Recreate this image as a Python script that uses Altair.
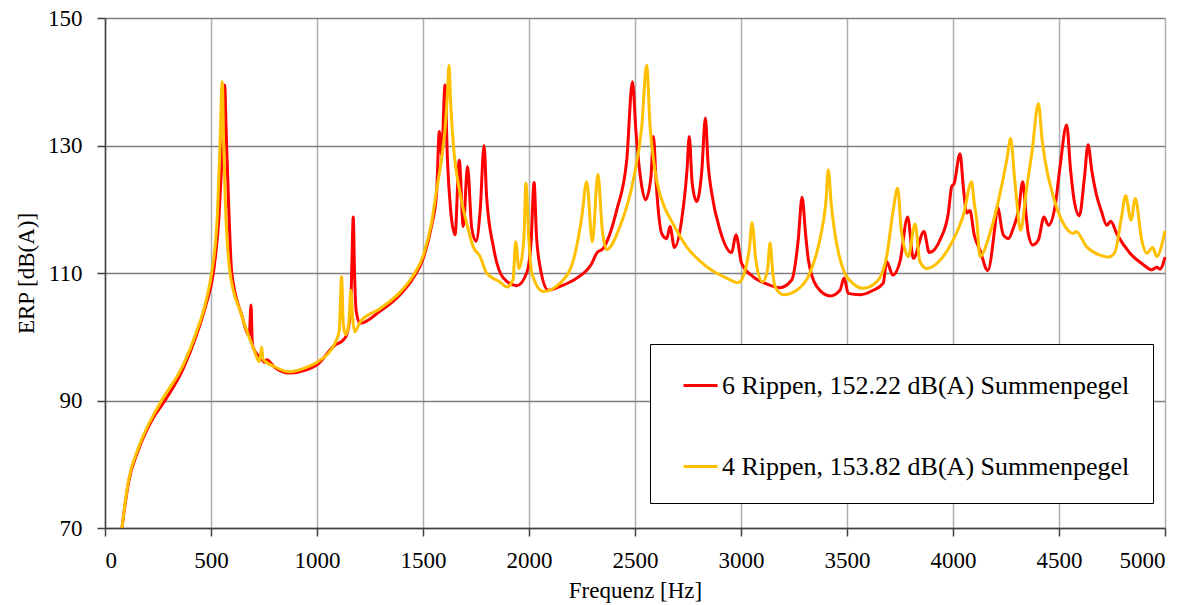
import altair as alt
import pandas as pd

# 6 Rippen (red)
f6 = [80, 110, 157, 228, 283, 369, 432, 476, 511, 538, 552, 560, 565, 570, 574, 585, 598, 645, 680, 689, 694, 700,
      740, 752, 763, 800, 870, 950, 1000, 1085, 1124, 1140, 1158, 1165, 1171, 1177, 1185, 1203, 1297, 1392, 1454,
      1502, 1541, 1564, 1577, 1588, 1604, 1615, 1630, 1651, 1671, 1690, 1710, 1730, 1750, 1770, 1788, 1800, 1832,
      1879, 1942, 1989, 2010, 2024, 2035, 2052, 2091, 2146, 2225, 2296, 2319, 2351, 2414, 2461, 2488, 2505, 2530,
      2550, 2575, 2587, 2600, 2626, 2650, 2665, 2686, 2720, 2745, 2756, 2770, 2791, 2815, 2832, 2845, 2862, 2901,
      2956, 2976, 3003, 3058, 3121, 3184, 3239, 3270, 3288, 3305, 3318, 3357, 3420, 3467, 3486, 3506, 3561, 3624,
      3671, 3687, 3716, 3750, 3786, 3813, 3863, 3888, 3939, 3978, 3994, 4005, 4033, 4050, 4065, 4080, 4100, 4127,
      4164, 4198, 4209, 4237, 4261, 4284, 4310, 4329, 4345, 4355, 4376, 4403, 4429, 4450, 4481, 4505, 4536, 4555,
      4571, 4596, 4620, 4637, 4655, 4675, 4701, 4725, 4744, 4772, 4835, 4898, 4937, 4961, 4976, 5000]
db6 = [70, 77.0, 82.2, 87.3, 90, 95.0, 100.3, 105.0, 110, 119, 128, 134, 139.5, 134, 129.6, 119, 110, 103.4, 100.2,
       105, 99.5, 98.2, 96.5, 96.0, 96.4, 95.2, 94.3, 94.8, 95.6, 98.7, 99.5, 100.3, 104, 112, 118.8, 110, 104,
       102.1, 104.0, 106.6, 109.2, 112.4, 117.5, 122.5, 132.2, 128.5, 139.5, 128, 120, 116, 127.7, 117.3, 126.7,
       117, 115.0, 120, 130.0, 122, 114.1, 109.2, 108.0, 110, 115, 124.2, 116, 111, 107.3, 107.9, 109.2, 111.5,
       113.1, 113.9, 119.9, 127.7, 140.0, 132, 124, 121.5, 125, 131.4, 124, 116.2, 115.4, 117.3, 114.0, 118.3, 126,
       131.4, 124, 121.2, 126, 134.3, 127, 122.5, 116.7, 113.2, 116, 111.5, 109.4, 108.3, 107.7, 108.9, 115.2,
       121.9, 116, 112, 107.9, 106.4, 107.3, 109.2, 106.8, 106.6, 107.3, 108.4, 111.8, 109.7, 111.8, 118.8, 112.3,
       116.5, 113.2, 115.2, 119.4, 123.6, 124, 128.7, 123, 119.4, 119.8, 116, 113.6, 110.4, 117.3, 120.4, 116.0,
       115.4, 117, 120, 124.3, 119, 116.2, 114.4, 115.2, 118.8, 117.5, 120.4, 126.7, 133.2, 126, 121.5, 119.0, 125,
       130.1, 126, 122.5, 119.6, 117.5, 118.1, 116.2, 113.1, 111.3, 110.5, 110.9, 110.6, 112.5]

# 4 Rippen (yellow)
f4 = [80, 110, 157, 228, 267, 369, 432, 476, 503, 530, 542, 553, 560, 568, 590, 640, 700, 728, 739, 745, 800, 870,
      950, 1000, 1085, 1105, 1116, 1124, 1135, 1150, 1160, 1168, 1179, 1203, 1297, 1392, 1454, 1502, 1541, 1564,
      1590, 1605, 1615, 1623, 1630, 1643, 1675, 1706, 1737, 1769, 1800, 1863, 1895, 1925, 1937, 1953, 1975, 1986,
      1998, 2013, 2067, 2146, 2209, 2249, 2272, 2299, 2325, 2345, 2366, 2429, 2492, 2532, 2555, 2571, 2594, 2642,
      2665, 2744, 2838, 2932, 2988, 3024, 3040, 3052, 3070, 3102, 3125, 3137, 3150, 3160, 3200, 3263, 3325, 3373,
      3400, 3412, 3425, 3443, 3483, 3530, 3577, 3640, 3687, 3718, 3739, 3755, 3774, 3789, 3821, 3844, 3876, 3939,
      4001, 4049, 4088, 4100, 4112, 4127, 4174, 4222, 4255, 4272, 4290, 4300, 4319, 4348, 4372, 4403, 4420, 4434,
      4473, 4520, 4567, 4580, 4631, 4693, 4733, 4764, 4795, 4814, 4840, 4860, 4890, 4914, 4942, 4961, 5000]
db4 = [70, 77.3, 82.5, 87.7, 90, 95.6, 100.8, 105.5, 110, 119, 129.6, 140, 130, 121, 110, 103.8, 98.2, 96.1, 98.4,
       96.5, 95.3, 94.5, 95.2, 96, 99.0, 101, 109.4, 102, 100.3, 102, 107.3, 103, 100.8, 102.3, 104.4, 107, 109.6,
       112.8, 118, 123, 128.5, 133, 138, 142.6, 137, 130.3, 122.5, 117.8, 114.1, 112.6, 110, 108.6, 107.8, 109,
       114.9, 110.7, 115, 124.1, 116, 110, 107.1, 108.4, 112, 118.8, 124.3, 114.9, 125.5, 117, 113.7, 117.3, 124.6,
       133, 142.6, 133, 126.2, 120.1, 118.6, 114.1, 111, 109.2, 108.5, 111, 114, 117.9, 112, 108.6, 110.5, 114.7,
       110, 107.9, 106.6, 107.3, 110, 115.4, 121, 126.2, 121, 116.2, 110.5, 108.3, 107.6, 108.6, 112.6, 119.9,
       123.3, 117, 113.6, 112.6, 117.7, 111.8, 110.7, 112.0, 115.2, 119.1, 124.3, 121, 118.3, 112.6, 116.2, 122.5,
       128, 131.1, 125, 121.5, 116.7, 123.5, 128.8, 136.6, 131, 127.7, 122, 117.8, 116.2, 116.5, 114.1, 112.8,
       112.5, 113.3, 118.8, 122.1, 118.3, 121.7, 115.2, 113.1, 114.0, 112.6, 116.6]

series_names = ["6 Rippen, 152.22 dB(A) Summenpegel", "4 Rippen, 153.82 dB(A) Summenpegel"]
series_colors = ["#FF0000", "#FFC000"]
x_ticks = list(range(0, 5001, 500))
y_ticks = [70, 90, 110, 130, 150]

df = pd.concat([
    pd.DataFrame({"f": f6, "db": db6, "s": series_names[0], "o": 0}),
    pd.DataFrame({"f": f4, "db": db4, "s": series_names[1], "o": 1}),
])

FONT = "Liberation Serif"

chart = alt.Chart(df).mark_line(strokeWidth=3, interpolate="monotone").encode(
    x=alt.X("f:Q", scale=alt.Scale(domain=[0, 5000], nice=False),
            axis=alt.Axis(values=x_ticks, format="d", title="Frequenz [Hz]", gridColor="#B0B0B0",
                          gridWidth=1.5, labelPadding=13, titlePadding=7)),
    y=alt.Y("db:Q", scale=alt.Scale(domain=[70, 150], nice=False, zero=False),
            axis=alt.Axis(values=y_ticks, title="ERP [dB(A)]", gridColor="#7F7F7F", gridWidth=1.5,
                          labelPadding=15, titlePadding=9)),
    color=alt.Color("s:N", scale=alt.Scale(domain=series_names, range=series_colors),
                    legend=alt.Legend(title=None, orient="none", legendX=545, legendY=326,
                                      symbolType="stroke", symbolSize=1156, symbolStrokeWidth=3,
                                      labelFontSize=26, labelFont=FONT, labelColor="#000000", labelLimit=0,
                                      rowPadding=49, padding=23, symbolOffset=9, labelOffset=3,
                                      strokeColor="#000000", fillColor="#FFFFFF")),
    order="o:Q",
).properties(
    width=1060, height=510,
    autosize=alt.AutoSizeParams(type="none"),
    padding={"left": 105, "top": 18, "right": 34, "bottom": 77},
).configure_view(stroke=None).configure_axis(
    labelFont=FONT, titleFont=FONT, labelFontSize=23, titleFontSize=23, titleFontWeight="normal",
    labelColor="#000000", titleColor="#000000", domainColor="#404040", domainWidth=1.5,
    tickColor="#404040", tickWidth=1.5, tickSize=8,
)

chart.save("out.html", embed_options={"renderer": "svg", "actions": False})
